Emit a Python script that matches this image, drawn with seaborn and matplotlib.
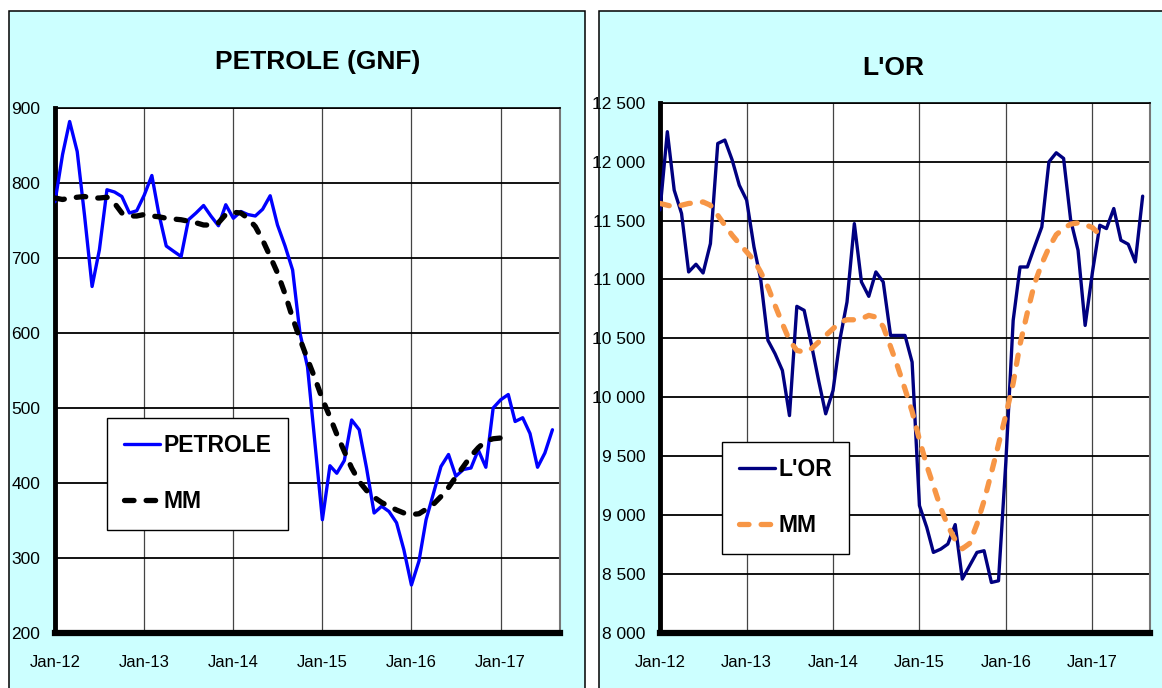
import numpy as np
import pandas as pd
import matplotlib
matplotlib.use("Agg")
import matplotlib.pyplot as plt
import matplotlib.dates as mdates
from matplotlib.patches import Rectangle
from matplotlib.ticker import FuncFormatter, MultipleLocator
import seaborn as sns

# ---------------- data ----------------
months = pd.date_range("2012-01-01", periods=68, freq="MS")

petrole = [775, 838, 882, 842, 757, 662, 711, 791, 788, 782, 760, 763,
           784, 810, 760, 716, 709, 702, 751, 760, 770, 756, 743, 771,
           753, 762, 758, 756, 765, 783, 744, 716, 684, 600, 555, 455,
           351, 423, 413, 430, 484, 471, 420, 360, 369, 362, 347, 311,
           264, 296, 351, 387, 422, 438, 409, 418, 420, 444, 421, 500,
           511, 518, 482, 487, 466, 421, 440, 471]

petrole_mm = [780, 778, 780, 781, 782, 780, 780, 781, 773, 760, 756, 756,
              758, 756, 755, 753, 752, 751, 749, 747, 744, 744, 747, 758,
              761, 760, 753, 742, 724, 702, 680, 652, 620, 592, 565, 540,
              512, 488, 465, 442, 420, 402, 390, 381, 374, 369, 364, 360,
              358, 359, 365, 372, 382, 394, 408, 422, 436, 447, 456, 459,
              460, 463]

or_vals = [11590, 12254, 11758, 11560, 11064, 11129, 11055, 11304, 12154, 12183, 12013, 11800,
           11673, 11276, 11007, 10483, 10370, 10228, 9845, 10772, 10738, 10455, 10143, 9860,
           10058, 10511, 10809, 11474, 10979, 10857, 11064, 10979, 10525, 10525, 10525, 10299,
           9081, 8896, 8684, 8712, 8755, 8920, 8458, 8571, 8684, 8698, 8429, 8443,
           9450, 10653, 11106, 11106, 11276, 11446, 11998, 12075, 12027, 11503, 11248, 10610,
           11064, 11460, 11432, 11602, 11333, 11299, 11149, 11707]

or_mm = [11645, 11630, 11616, 11630, 11645, 11650, 11658, 11630, 11545, 11460, 11375, 11304,
         11234, 11163, 11064, 10936, 10780, 10625, 10483, 10398, 10384, 10412, 10469, 10525,
         10582, 10639, 10658, 10658, 10667, 10695, 10681, 10600, 10430, 10260, 10070, 9880,
         9640, 9420, 9250, 9060, 8910, 8790, 8715, 8760, 8924, 9122, 9360, 9600,
         9850, 10120, 10450, 10720, 10964, 11134, 11270, 11380, 11432, 11470, 11480, 11465,
         11440, 11380]

titles = ["PETROLE (GNF)", "L'OR"]
labels_left = ["PETROLE", "MM"]
labels_right = ["L'OR", "MM"]

# ---------------- style ----------------
sns.set_style("white")
plt.rcParams["font.family"] = ["Liberation Sans", "DejaVu Sans"]
plt.rcParams["text.color"] = "black"

W, H = 1162, 688
fig = plt.figure(figsize=(W / 100, H / 100), dpi=100, facecolor="white")


def fx(px):
    return px / W


def fy(py):
    return 1 - py / H


CYAN = "#CCFFFF"
# panel backgrounds
fig.add_artist(Rectangle((fx(9), fy(700)), fx(585) - fx(9), fy(11) - fy(700),
                         transform=fig.transFigure, facecolor=CYAN, edgecolor="black",
                         lw=1.1, zorder=0))
fig.add_artist(Rectangle((fx(599), fy(700)), fx(1175) - fx(599), fy(11) - fy(700),
                         transform=fig.transFigure, facecolor=CYAN, edgecolor="black",
                         lw=1.1, zorder=0))

ax1 = fig.add_axes([fx(55), fy(633), fx(560) - fx(55), fy(108) - fy(633)])
ax2 = fig.add_axes([fx(660), fy(633), fx(1150) - fx(660), fy(102.7) - fy(633)])

df1 = pd.DataFrame({"date": months, "val": petrole})
df1m = pd.DataFrame({"date": months[:len(petrole_mm)], "val": petrole_mm})
df2 = pd.DataFrame({"date": months, "val": or_vals})
df2m = pd.DataFrame({"date": months[:len(or_mm)], "val": or_mm})

sns.lineplot(data=df1, x="date", y="val", ax=ax1, color="#0000FF", lw=2.4,
             label=labels_left[0], zorder=3)
sns.lineplot(data=df1m, x="date", y="val", ax=ax1, color="black", lw=3.8,
             label=labels_left[1], zorder=4)
sns.lineplot(data=df2, x="date", y="val", ax=ax2, color="#000080", lw=2.4,
             label=labels_right[0], zorder=3)
sns.lineplot(data=df2m, x="date", y="val", ax=ax2, color="#F79646", lw=3.8,
             label=labels_right[1], zorder=4)

for ax in (ax1, ax2):
    mm_line = ax.get_lines()[1]
    mm_line.set_dashes((1.8, 2.3))
    mm_line.set_dash_capstyle("round")
    mm_line.set_solid_capstyle("round")

# axes formatting
ax1.set_ylim(200, 900)
ax1.yaxis.set_major_locator(MultipleLocator(100))
ax2.set_ylim(8000, 12500)
ax2.yaxis.set_major_locator(MultipleLocator(500))
ax2.yaxis.set_major_formatter(FuncFormatter(lambda v, p: f"{int(v):,}".replace(",", " ")))

for ax in (ax1, ax2):
    ax.set_facecolor("white")
    ax.set_xlim(pd.Timestamp("2012-01-01"), pd.Timestamp("2017-09-01"))
    ax.xaxis.set_major_locator(mdates.YearLocator(month=1, day=1))
    ax.xaxis.set_major_formatter(mdates.DateFormatter("%b-%y"))
    ax.set_xlabel("")
    ax.set_ylabel("")
    ax.set_axisbelow(True)
    ax.grid(True, axis="y", color="black", lw=1.3)
    ax.grid(True, axis="x", color="#444444", lw=0.9)
    ax.spines["left"].set_linewidth(3.5)
    ax.spines["bottom"].set_linewidth(4.5)
    ax.spines["top"].set_linewidth(1.2)
    ax.spines["right"].set_linewidth(1.5)
    ax.spines["right"].set_color("#777777")
    for s in ("left", "bottom", "top"):
        ax.spines[s].set_color("black")
    ax.tick_params(axis="y", direction="inout", length=5, width=2.5, color="black",
                   labelsize=12.5, pad=8, labelcolor="black")
    ax.tick_params(axis="x", direction="inout", length=5, width=2.5, color="black",
                   labelsize=12, pad=13, labelcolor="black")

# titles
fig.text(fx(318), fy(62), titles[0], ha="center", va="center", fontsize=19,
         fontweight="bold", color="black")
fig.text(fx(893), fy(68), titles[1], ha="center", va="center", fontsize=19,
         fontweight="bold", color="black")

# legends
leg_kw = dict(frameon=True, fancybox=False, edgecolor="black", framealpha=1,
              prop={"weight": "bold", "size": 16.5}, handlelength=1.6,
              handletextpad=0.15, labelspacing=1.45, borderpad=0.72, borderaxespad=0,
              labelcolor="black")
h1, l1 = ax1.get_legend_handles_labels()
leg1 = ax1.legend(h1, l1, loc="upper left", bbox_to_anchor=(0.103, 0.41), **leg_kw)
leg1.get_frame().set_linewidth(1.0)
h2, l2 = ax2.get_legend_handles_labels()
leg2 = ax2.legend(h2, l2, loc="upper left", bbox_to_anchor=(0.127, 0.361), **leg_kw)
leg2.get_frame().set_linewidth(1.0)

fig.savefig("out.png", dpi=100, facecolor="white")
